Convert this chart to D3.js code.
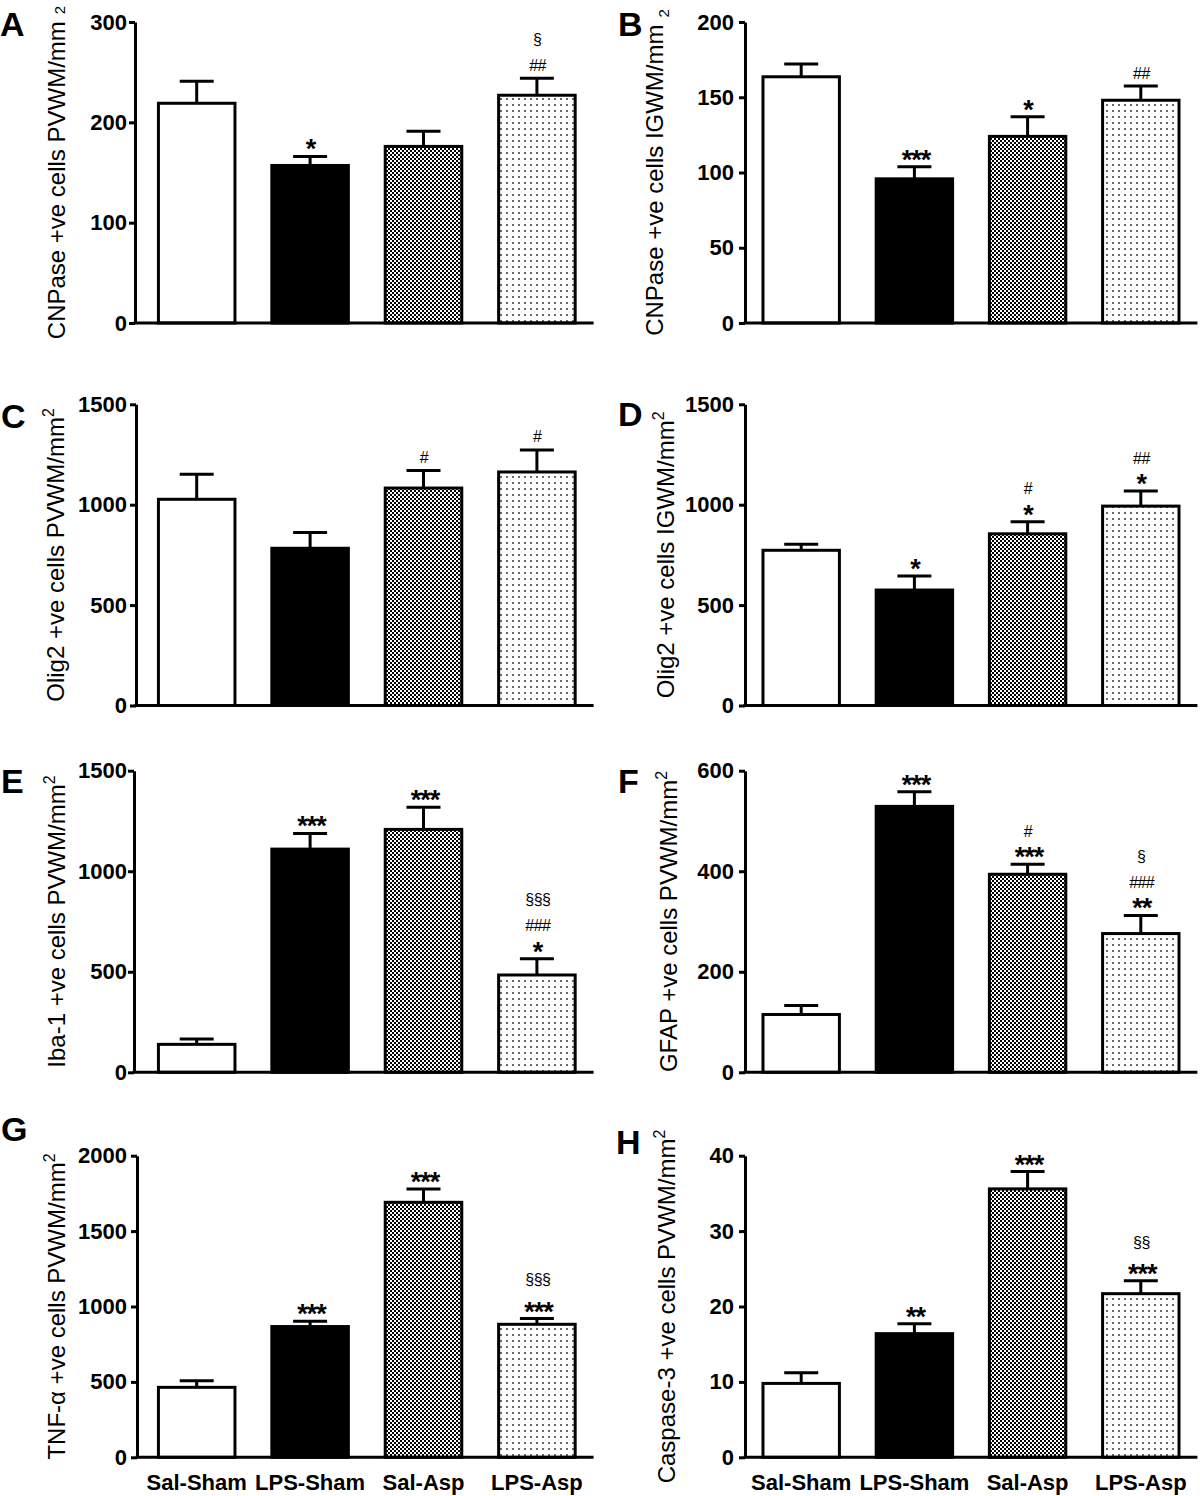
<!DOCTYPE html>
<html><head><meta charset="utf-8">
<script src="https://cdn.jsdelivr.net/npm/d3@7"></script>
<style>body{margin:0;background:#fff}</style>
</head><body>
<svg id="chart" width="1200" height="1496"></svg>
<script>
// ---------- data ----------
const categories = ["Sal-Sham", "LPS-Sham", "Sal-Asp", "LPS-Asp"];
const panelLetters = ["A", "B", "C", "D", "E", "F", "G", "H"];
const yTitles = [
  "CNPase +ve cells PVWM/mm", "CNPase +ve cells IGWM/mm",
  "Olig2 +ve cells PVWM/mm", "Olig2 +ve cells IGWM/mm",
  "Iba-1 +ve cells PVWM/mm", "GFAP +ve cells PVWM/mm",
  "TNF-\u03b1 +ve cells PVWM/mm", "Caspase-3 +ve cells PVWM/mm"
];
const yMax = [300, 200, 1500, 1500, 1500, 600, 2000, 40];
const ticksA = [0, 100, 200, 300];
const ticksB = [0, 50, 100, 150, 200];
const ticksC = [0, 500, 1000, 1500];
const ticksD = [0, 500, 1000, 1500];
const ticksE = [0, 500, 1000, 1500];
const ticksF = [0, 200, 400, 600];
const ticksG = [0, 500, 1000, 1500, 2000];
const ticksH = [0, 10, 20, 30, 40];

const meansA = [219, 157, 176, 227];   const semA = [22, 9, 15, 17];
const meansB = [163.6, 95.8, 124, 148]; const semB = [8.5, 8, 13, 9.5];
const meansC = [1027, 783, 1083, 1163]; const semC = [125, 78, 87, 110];
const meansD = [773, 575, 855, 993];   const semD = [30, 70, 60, 75];
const meansE = [139, 1110, 1208, 484]; const semE = [27, 78, 110, 81];
const meansF = [115, 529, 394, 276];   const semF = [18, 29, 20, 36];
const meansG = [464, 867, 1691, 882];  const semG = [44, 35, 88, 38];
const meansH = [9.8, 16.4, 35.6, 21.7]; const semH = [1.4, 1.3, 2.3, 1.7];

// significance marks per bar, listed bottom to top
const annA = [[], ["*"], [], ["##", "\u00a7"]];
const annB = [[], ["***"], ["*"], ["##"]];
const annC = [[], [], ["#"], ["#"]];
const annD = [[], ["*"], ["*", "#"], ["*", "##"]];
const annE = [[], ["***"], ["***"], ["*", "###", "\u00a7\u00a7\u00a7"]];
const annF = [[], ["***"], ["***", "#"], ["**", "###", "\u00a7"]];
const annG = [[], ["***"], ["***"], ["***", "\u00a7\u00a7\u00a7"]];
const annH = [[], ["**"], ["***"], ["***", "\u00a7\u00a7"]];

const allTicks = [ticksA, ticksB, ticksC, ticksD, ticksE, ticksF, ticksG, ticksH];
const allMeans = [meansA, meansB, meansC, meansD, meansE, meansF, meansG, meansH];
const allSem = [semA, semB, semC, semD, semE, semF, semG, semH];
const allAnn = [annA, annB, annC, annD, annE, annF, annG, annH];

// ---------- layout ----------
const rowTop = [22, 404.3, 770.7, 1155.7];
const rowBottom = [323, 705.5, 1072.3, 1457.3];
const axisX = [135, 745, 136, 745, 134, 745, 137, 745];
const bandRange = [[140, 593.6], [744.6, 1197.4]];
const tickEnd = [127, 734];
const titleX = [65, 663, 64, 674, 65, 677, 65, 675];
const letterPos = [[0, 36], [618, 36], [1, 428], [618, 426], [1, 793], [618, 793], [1, 1141], [616, 1154]];
const FONT = "Arial, 'Liberation Sans', Helvetica, sans-serif";

const svg = d3.select("#chart");
const defs = svg.append("defs");
const chk = defs.append("pattern").attr("id", "checker").attr("patternUnits", "userSpaceOnUse")
  .attr("width", 4).attr("height", 4);
chk.append("rect").attr("width", 4).attr("height", 4).attr("fill", "#fff");
chk.append("rect").attr("x", 0).attr("y", 0).attr("width", 2).attr("height", 2).attr("fill", "#000");
chk.append("rect").attr("x", 2).attr("y", 2).attr("width", 2).attr("height", 2).attr("fill", "#000");
const dots = defs.append("pattern").attr("id", "dots").attr("patternUnits", "userSpaceOnUse")
  .attr("width", 6).attr("height", 6);
dots.append("rect").attr("width", 6).attr("height", 6).attr("fill", "#fff");
dots.append("rect").attr("x", 2).attr("y", 2).attr("width", 2).attr("height", 2).attr("fill", "#6a6a6a");

const fills = ["#fff", "#000", "url(#checker)", "url(#dots)"];

panelLetters.forEach((letter, p) => {
  const col = p % 2, row = Math.floor(p / 2);
  const g = svg.append("g");
  const y = d3.scaleLinear().domain([0, yMax[p]]).range([rowBottom[row], rowTop[row]]);
  const x = d3.scaleBand().domain(categories).range(bandRange[col])
    .paddingInner(0.325).paddingOuter(0.1625);
  const ax = axisX[p];
  const means = allMeans[p], sem = allSem[p], ann = allAnn[p];

  // error bars (upper only)
  categories.forEach((c, i) => {
    const cx = x(c) + x.bandwidth() / 2;
    g.append("line").attr("x1", cx).attr("x2", cx)
      .attr("y1", y(means[i])).attr("y2", y(means[i] + sem[i]))
      .attr("stroke", "#000").attr("stroke-width", 3);
    g.append("line").attr("x1", cx - 17).attr("x2", cx + 17)
      .attr("y1", y(means[i] + sem[i])).attr("y2", y(means[i] + sem[i]))
      .attr("stroke", "#000").attr("stroke-width", 3);
  });

  // bars
  g.selectAll("rect.bar").data(categories).join("rect").attr("class", "bar")
    .attr("x", c => x(c)).attr("width", x.bandwidth())
    .attr("y", (c, i) => y(means[i])).attr("height", (c, i) => y(0) - y(means[i]))
    .attr("fill", (c, i) => fills[i]).attr("stroke", "#000").attr("stroke-width", 3);

  // y axis
  const tickSize = 6;
  const yAxis = d3.axisLeft(y).tickValues(allTicks[p]).tickSize(tickSize).tickSizeOuter(0)
    .tickPadding(ax - tickSize - tickEnd[col]).tickFormat(d3.format("d"));
  const ag = g.append("g").attr("transform", `translate(${ax},0)`).call(yAxis);
  ag.select(".domain").attr("stroke", "#000").attr("stroke-width", 3);
  ag.selectAll(".tick line").attr("stroke", "#000").attr("stroke-width", 3);
  ag.selectAll(".tick text").attr("fill", "#000")
    .style("font-family", FONT).style("font-size", "22px").style("font-weight", "bold");

  // x axis baseline
  g.append("line").attr("x1", ax - 1.5).attr("x2", bandRange[col][1])
    .attr("y1", y(0)).attr("y2", y(0)).attr("stroke", "#000").attr("stroke-width", 3);

  // significance marks
  categories.forEach((c, i) => {
    const cx = x(c) + x.bandwidth() / 2;
    let center = y(means[i] + sem[i]) - 13;
    ann[i].forEach((s, j) => {
      const ch = s[0];
      if (j > 0) center -= (ch === "\u00a7" ? 25 : 20);
      let fs, off, fw, ls;
      if (ch === "*") { fs = 27; off = 15; fw = "bold"; ls = -1; }
      else if (ch === "#") { fs = 16; off = 5.6; fw = "normal"; ls = -0.6; }
      else { fs = 16; off = 4.8; fw = "normal"; ls = -0.6; }
      g.append("text").attr("x", cx - ls * s.length / 2).attr("y", center + off)
        .attr("text-anchor", "middle")
        .style("font-family", FONT).style("font-size", fs + "px").style("font-weight", fw)
        .style("letter-spacing", ls + "px").text(s);
    });
  });

  // y title
  const cy = (rowTop[row] + rowBottom[row]) / 2;
  const t = g.append("text").attr("transform", `translate(${titleX[p]},${cy}) rotate(-90)`)
    .attr("text-anchor", "middle").style("font-family", FONT).style("font-size", "24px")
    .text(yTitles[p]);
  if (p < 2) {
    t.append("tspan").attr("dx", 7).attr("dy", p === 0 ? 0 : 6).style("font-size", "15px").text("2");
  } else {
    t.append("tspan").attr("dy", -10).style("font-size", "16px").text("2");
  }

  // panel letter
  svg.append("text").attr("x", letterPos[p][0]).attr("y", letterPos[p][1])
    .style("font-family", FONT).style("font-size", "34px").style("font-weight", "bold").text(letter);

  // category labels on bottom row
  if (row === 3) {
    g.selectAll("text.cat").data(categories).join("text").attr("class", "cat")
      .attr("x", c => x(c) + x.bandwidth() / 2).attr("y", 1490)
      .attr("text-anchor", "middle").style("font-family", FONT)
      .style("font-size", "22px").style("font-weight", "bold").text(c => c);
  }
});
</script>
</body></html>
